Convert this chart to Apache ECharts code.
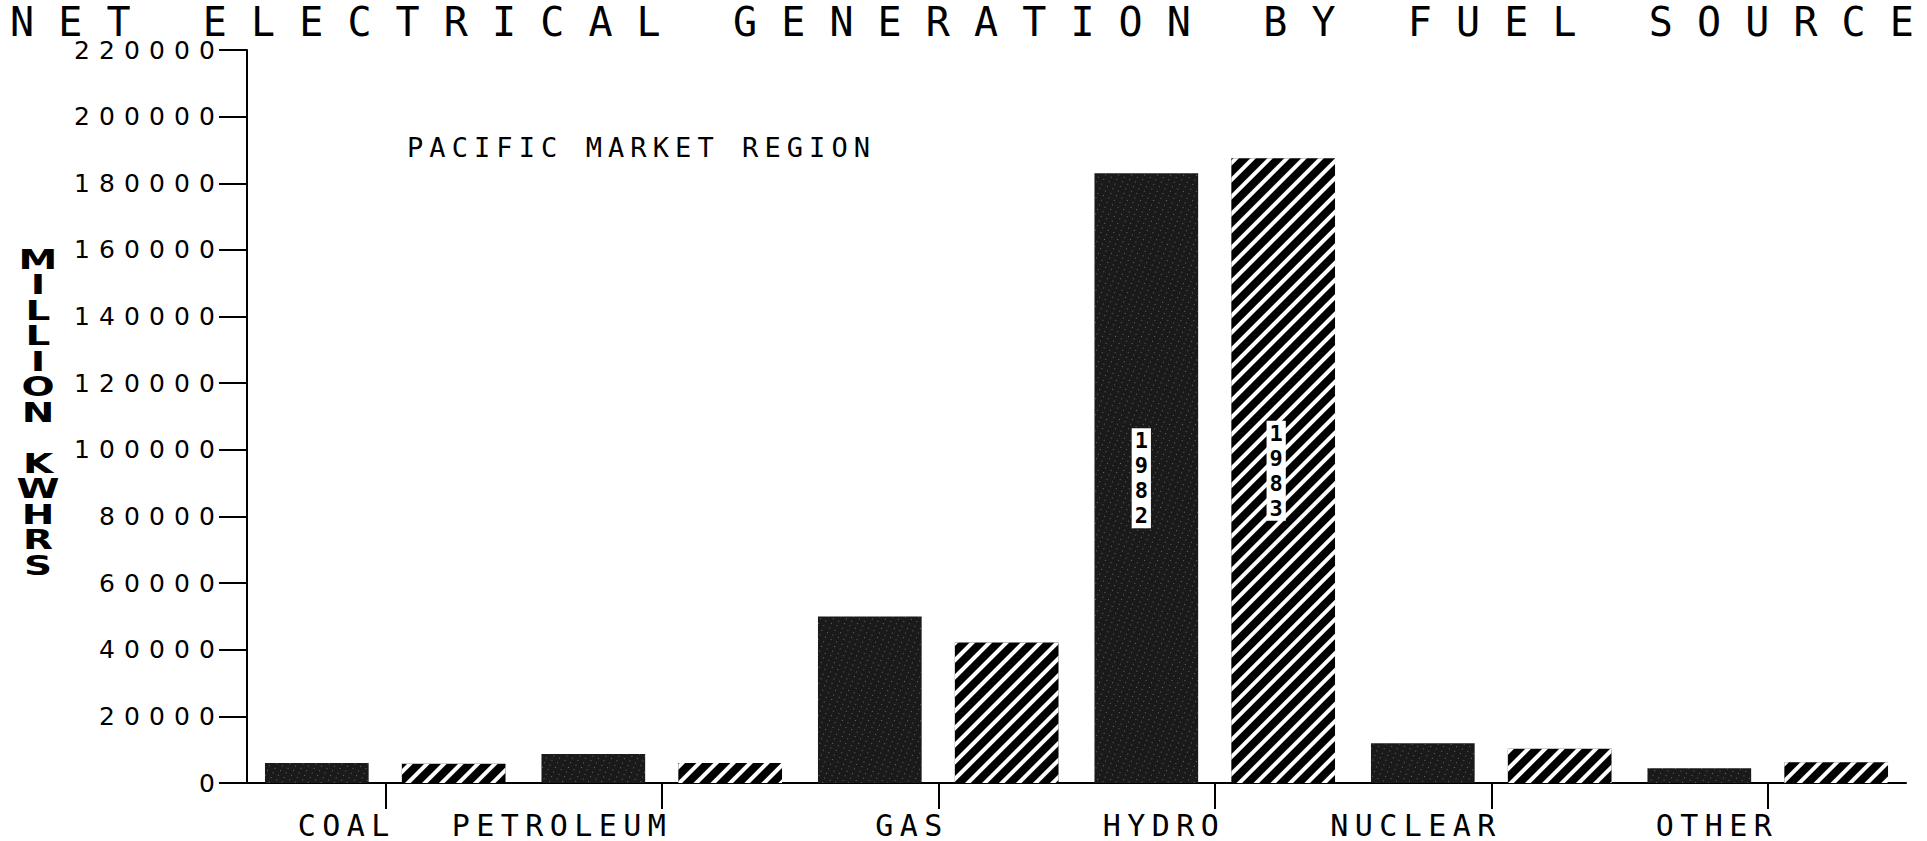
<!DOCTYPE html>
<html>
<head>
<meta charset="utf-8">
<title>Net Electrical Generation by Fuel Source</title>
<script src="https://cdn.jsdelivr.net/npm/echarts@6/dist/echarts.min.js"></script>
<style>
html,body{margin:0;padding:0;background:#fff;}
#chart{width:1927px;height:841px;}
</style>
</head>
<body>
<div id="chart"></div>
<script>
// values, million kWh
const categories = ['COAL', 'PETROLEUM', 'GAS', 'HYDRO', 'NUCLEAR', 'OTHER'];
const years = ['1982', '1983'];
const gen1982 = [6000, 8700, 50000, 183000, 11900, 4400];
const gen1983 = [5800, 6000, 42200, 187500, 10300, 6200];
const yMax = 220000;
const yStep = 20000;

const titleText = 'NET ELECTRICAL GENERATION BY FUEL SOURCE';
const regionText = 'PACIFIC MARKET REGION';
const yName = 'MILLION KWHRS';

const mono = '"DejaVu Sans Mono", monospace';

// the year is written down the hydro bars
function yearLabel(year, dx) {
    return {
        show: true,
        position: 'inside',
        offset: [dx, 0],
        formatter: year.split('').join('\n'),
        color: '#000',
        backgroundColor: '#fff',
        fontFamily: mono,
        fontWeight: 'bold',
        fontSize: 22,
        lineHeight: 25,
        padding: [0, 3]
    };
}
function withYear(values, year, dx) {
    return values.map(function (v, i) {
        return categories[i] === 'HYDRO' ? { value: v, label: yearLabel(year, dx) } : v;
    });
}

const chart = echarts.init(document.getElementById('chart'), null, { renderer: 'svg' });

const option = {
    animation: false,
    backgroundColor: '#fff',
    aria: { enabled: true, decal: { show: true } },
    title: {
        text: titleText,
        left: 10,
        top: 7,
        padding: 0,
        textStyle: { fontFamily: mono, fontSize: 40, fontWeight: 'normal', color: '#000', lineHeight: 30 }
    },
    grid: { left: 247, right: 21, top: 50, bottom: 58 },
    graphic: [
        {
            type: 'text', x: 407, y: 147,
            style: { text: regionText, font: '27px ' + mono, fill: '#000', verticalAlign: 'middle' }
        },
        {
            type: 'text', x: 38, y: 247, scaleX: 1.5,
            style: {
                text: yName.split('').join('\n'),
                font: 'bold 26px "DejaVu Sans"',
                fill: '#000', align: 'center', verticalAlign: 'top', lineHeight: 25.5
            }
        }
    ],
    xAxis: {
        type: 'category',
        data: categories,
        axisLine: { show: true, lineStyle: { color: '#000', width: 2 } },
        axisTick: { show: true, alignWithLabel: true, length: 26, lineStyle: { color: '#000', width: 2 } },
        axisLabel: {
            align: 'right', margin: 30, fontFamily: mono, fontSize: 30, lineHeight: 24, color: '#000'
        }
    },
    yAxis: {
        type: 'value',
        min: 0,
        max: yMax,
        interval: yStep,
        splitLine: { show: false },
        axisLine: { show: true, lineStyle: { color: '#000', width: 2 } },
        axisTick: { show: true, length: 28, lineStyle: { color: '#000', width: 2 } },
        axisLabel: {
            margin: 32, fontFamily: '"DejaVu Sans"', fontSize: 25, color: '#000',
            formatter: function (v) { return String(v); }
        }
    },
    series: [
        {
            name: years[0],
            type: 'bar',
            barCategoryGap: '13%',
            barGap: '32%',
            data: withYear(gen1982, years[0], -5),
            itemStyle: {
                color: '#1a1a1a',
                decal: {
                    symbol: 'rect', symbolSize: 1, color: 'rgba(255,255,255,0.35)',
                    dashArrayX: [1, 5], dashArrayY: [1, 4], rotation: 0.4
                }
            }
        },
        {
            name: years[1],
            type: 'bar',
            barCategoryGap: '13%',
            barGap: '32%',
            data: withYear(gen1983, years[1], -7),
            itemStyle: {
                color: '#000',
                decal: {
                    symbol: 'rect', symbolSize: 1, color: '#fff',
                    dashArrayX: [1, 0], dashArrayY: [4, 8], rotation: -Math.PI / 4
                }
            }
        }
    ]
};
chart.setOption(option);

// the old printer spread its letters out; stretch the svg text to the printed widths
function spread(t, cell, glyph) {
    const n = t.textContent.length;
    if (n > 1) {
        t.setAttribute('textLength', (n - 1) * cell + glyph);
        t.setAttribute('lengthAdjust', 'spacing');
    }
}
function spaceLetters() {
    document.querySelectorAll('#chart svg text').forEach(function (t) {
        const s = t.textContent;
        if (s === titleText) {
            spread(t, 48.1, 28);
        } else if (s === regionText) {
            spread(t, 22.3, 17);
        } else if (categories.indexOf(s) >= 0) {
            spread(t, 24.5, 18);
            t.setAttribute('dx', 4);
        } else if (/^(0|\d+0000)$/.test(s)) {
            spread(t, 25, 16);
        }
    });
}
chart.on('finished', spaceLetters);
spaceLetters();
setTimeout(spaceLetters, 50);
setTimeout(spaceLetters, 300);
</script>
</body>
</html>
